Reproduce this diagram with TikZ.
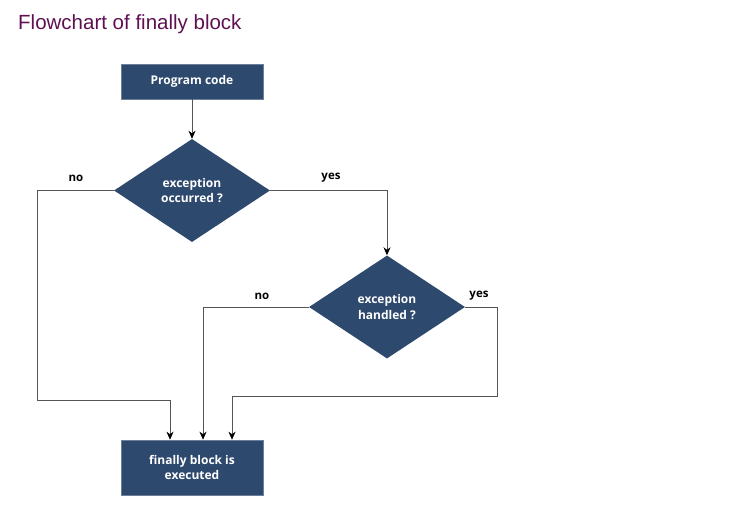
\documentclass[tikz,border=0pt]{standalone}
\usepackage{fontspec}
\setmainfont{Open Sans}
\newfontfamily\titlefont{Liberation Sans}
\usetikzlibrary{positioning, arrows.meta, shapes.geometric}
\definecolor{boxblue}{RGB}{46,73,110}
\definecolor{titlepurple}{RGB}{94,16,82}
\definecolor{linegray}{RGB}{85,85,85}

\begin{document}
\begin{tikzpicture}[
  x=1pt, y=-1pt,
  procbox/.style={draw=boxblue!70!white, line width=0.6pt, fill=boxblue, text=white,
                  minimum width=142pt, minimum height=35pt, inner sep=0pt, align=center,
                  font=\fontsize{12}{15}\selectfont\bfseries},
  decide/.style={diamond, fill=boxblue, text=white, aspect=1.51, minimum width=156pt,
                 minimum height=103pt, inner sep=0pt, align=center,
                 font=\fontsize{12}{15.5}\selectfont\bfseries},
  arr/.style={-{Stealth[length=8pt, width=7pt, inset=2.5pt, color=black]}, line width=0.8pt, color=linegray},
  lbl/.style={font=\fontsize{11.5}{13}\selectfont\bfseries, text=black, inner sep=1pt},
]
\useasboundingbox (0,0) rectangle (733,505);

% Title
\node[font=\titlefont\fontsize{20.5}{24}\selectfont, text=titlepurple, anchor=west, inner sep=0pt] (title) at (18,24) {Flowchart of finally block};

% Nodes
\node[procbox] (prog) at (192,81.5) {Program code};
\node[decide] (occ) at (192,190.5) {exception\\occurred ?};
\node[decide] (hand) at (387,307) {exception\\handled ?};
\node[procbox, minimum height=55pt] (fin) at (192,467.5) {finally block is\\executed};

% Arrows
\draw[arr] (prog) -- (occ);
\draw[arr] (occ.west) -| (37,400) -| ([xshift=-22pt]fin.north);
\draw[arr] (occ.east) -| (hand.north);
\draw[arr] (hand.west) -| ([xshift=11pt]fin.north);
\draw[arr] (hand.east) -| (497,396) -| ([xshift=40pt]fin.north);

% Labels
\node[lbl] (no1) at (76,178) {no};
\node[lbl] (yes1) at (331,178) {yes};
\node[lbl] (no2) at (262,296) {no};
\node[lbl] (yes2) at (479,296) {yes};

\end{tikzpicture}
\end{document}
